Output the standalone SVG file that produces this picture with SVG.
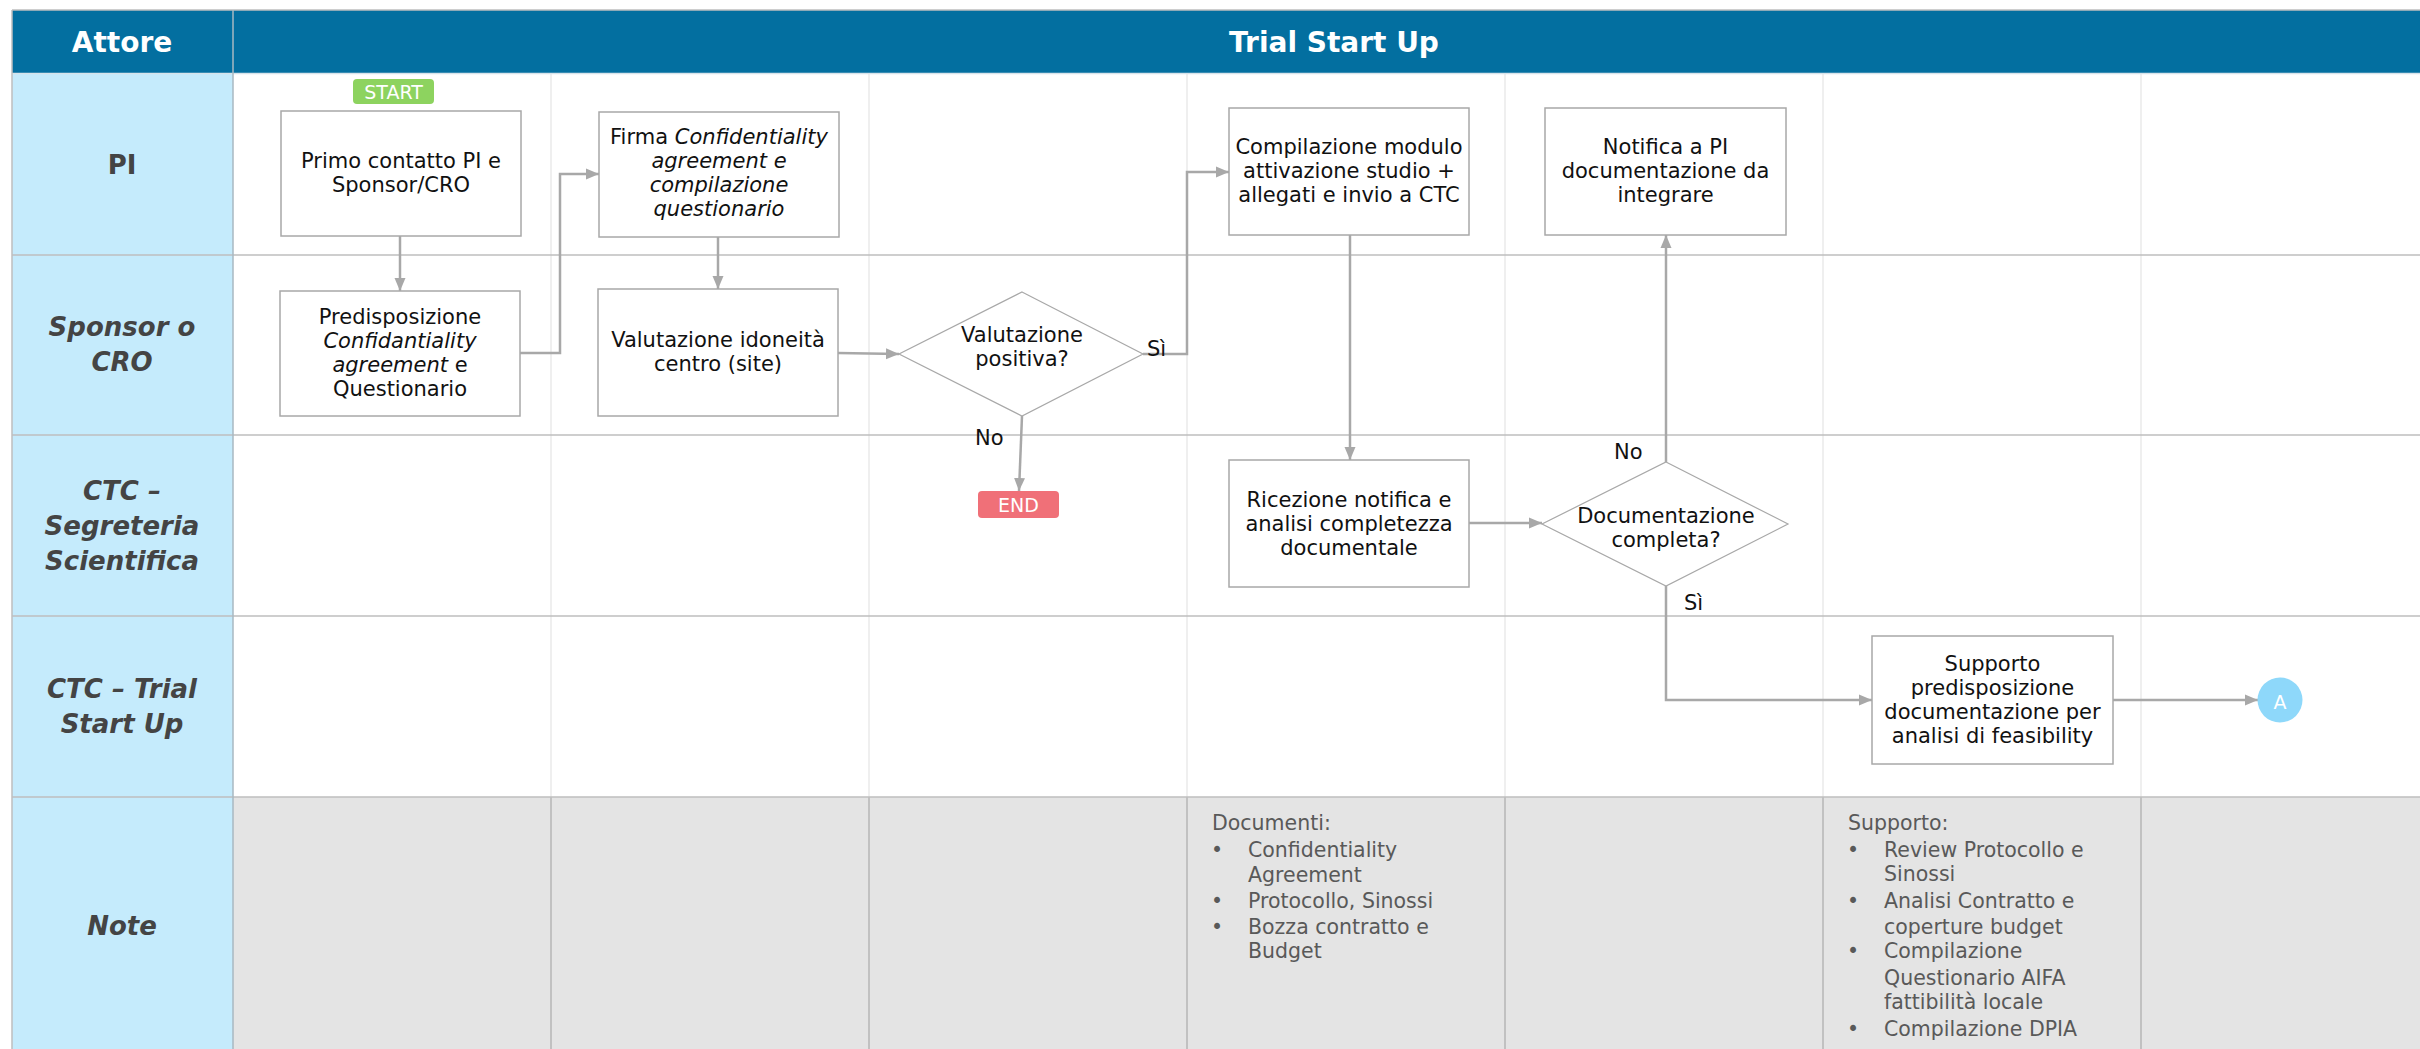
<svg xmlns="http://www.w3.org/2000/svg" width="2420" height="1049" viewBox="0 0 2420 1049">
  <style>
    .hdr { fill: #036FA0; }
    .lane-bg { fill: #C5EBFC; }
    .note-bg { fill: #E4E4E4; }
    .row-line { stroke: #BFBFBF; stroke-width: 1.5; fill: none; }
    .col-line { stroke: #E4E4E4; stroke-width: 1.2; fill: none; }
    .col-line-note { stroke: #B5B5B5; stroke-width: 1.5; fill: none; }
    .hdr-text { font-family: "DejaVu Sans", "Liberation Sans", sans-serif; font-weight: bold; font-size: 28px; fill: #FFFFFF; text-anchor: middle; }
    .lane-text { font-family: "DejaVu Sans", "Liberation Sans", sans-serif; font-weight: bold; font-style: italic; font-size: 26px; fill: #444444; text-anchor: middle; }
    .box { fill: #FFFFFF; stroke: #A8A8A8; stroke-width: 1.5; }
    .diamond { fill: #FFFFFF; stroke: #A8A8A8; stroke-width: 1.2; }
    .node-text { font-family: "DejaVu Sans", "Liberation Sans", sans-serif; font-size: 21px; fill: #111111; text-anchor: middle; }
    .lbl { font-family: "DejaVu Sans", "Liberation Sans", sans-serif; font-size: 21px; fill: #111111; }
    .term-text { font-family: "DejaVu Sans", "Liberation Sans", sans-serif; font-size: 19px; fill: #FFFFFF; text-anchor: middle; }
    .note-text { font-family: "DejaVu Sans", "Liberation Sans", sans-serif; font-size: 20.5px; fill: #595959; }
    .conn { fill: none; stroke: #A8A8A8; stroke-width: 2.5; marker-end: url(#arrow); }
  </style>
  <defs>
    <marker id="arrow" markerUnits="userSpaceOnUse" markerWidth="14" markerHeight="12" refX="13" refY="6" orient="auto">
      <path d="M0,0.5 L13,6 L0,11.5 Z" fill="#A8A8A8"/>
    </marker>
  </defs>

  <rect x="0" y="0" width="2420" height="1049" fill="#FFFFFF"/>

  <!-- swimlane grid -->
  <g id="grid">
    <rect class="hdr" x="12" y="10" width="2420" height="63"/>
    <rect class="lane-bg" x="12" y="73" width="221" height="990"/>
    <rect class="note-bg" x="233" y="797" width="2200" height="260"/>
    <!-- column separators in the lanes -->
    <path class="col-line" d="M551,74 V797 M869,74 V797 M1187,74 V797 M1505,74 V797 M1823,74 V797 M2141,74 V797"/>
    <!-- column separators in the notes row -->
    <path class="col-line-note" d="M551,797 V1049 M869,797 V1049 M1187,797 V1049 M1505,797 V1049 M1823,797 V1049 M2141,797 V1049"/>
    <!-- row separators -->
    <path class="row-line" d="M12,255 H2420 M12,435 H2420 M12,616 H2420 M12,797 H2420"/>
    <path stroke="#D8E3EA" stroke-width="1.5" fill="none" d="M12,73.5 H2420"/>
    <path class="row-line" d="M12,10 H2420 M12,10 V1049"/>
    <path stroke="#A9B8C2" stroke-width="1.5" fill="none" d="M233,10 V1049"/>
    <text class="hdr-text" x="122" y="52">Attore</text>
    <text class="hdr-text" x="1334" y="52">Trial Start Up</text>
  </g>

  <!-- lane titles -->
  <g id="lanes">
    <text class="lane-text" x="122" y="174" style="font-style:normal">PI</text>
    <text class="lane-text" x="122" y="336">Sponsor o</text>
    <text class="lane-text" x="122" y="371">CRO</text>
    <text class="lane-text" x="122" y="500">CTC –</text>
    <text class="lane-text" x="122" y="535">Segreteria</text>
    <text class="lane-text" x="122" y="570">Scientifica</text>
    <text class="lane-text" x="122" y="698">CTC – Trial</text>
    <text class="lane-text" x="122" y="733">Start Up</text>
    <text class="lane-text" x="122" y="935">Note</text>
  </g>

  <!-- connectors -->
  <g id="connectors">
    <path class="conn" d="M400,236 V291"/>
    <path class="conn" d="M520,353 H560 V174 H599"/>
    <path class="conn" d="M718,237 V289"/>
    <path class="conn" d="M838,353 L899,354"/>
    <path class="conn" d="M1143,354 H1187 V172 H1229"/>
    <path class="conn" d="M1022,416 L1019,491"/>
    <path class="conn" d="M1350,235 V460"/>
    <path class="conn" d="M1469,523 H1542"/>
    <path class="conn" d="M1666,462 V235"/>
    <path class="conn" d="M1666,586 V700 H1872"/>
    <path class="conn" d="M2113,700 H2258"/>
  </g>

  <g id="start">
    <rect x="353" y="79" width="81" height="25" rx="4" fill="#8DD35F"/>
    <text class="term-text" x="393.5" y="98.5">START</text>
  </g>

  <g id="primo-contatto">
    <rect class="box" x="281" y="111" width="240" height="125"/>
    <text class="node-text" x="401" y="168">Primo contatto PI e</text>
    <text class="node-text" x="401" y="192">Sponsor/CRO</text>
  </g>

  <g id="firma-cda">
    <rect class="box" x="599" y="112" width="240" height="125"/>
    <text class="node-text" x="719" y="144">Firma <tspan font-style="italic">Confidentiality</tspan></text>
    <text class="node-text" x="719" y="168" font-style="italic">agreement e</text>
    <text class="node-text" x="719" y="192" font-style="italic">compilazione</text>
    <text class="node-text" x="719" y="216" font-style="italic">questionario</text>
  </g>

  <g id="predisposizione">
    <rect class="box" x="280" y="291" width="240" height="125"/>
    <text class="node-text" x="400" y="324">Predisposizione</text>
    <text class="node-text" x="400" y="348" font-style="italic">Confidantiality</text>
    <text class="node-text" x="400" y="372"><tspan font-style="italic">agreement</tspan> e</text>
    <text class="node-text" x="400" y="396">Questionario</text>
  </g>

  <g id="valutazione-idoneita">
    <rect class="box" x="598" y="289" width="240" height="127"/>
    <text class="node-text" x="718" y="347">Valutazione idoneità</text>
    <text class="node-text" x="718" y="371">centro (site)</text>
  </g>

  <g id="valutazione-positiva">
    <polygon class="diamond" points="1022,292 1143,354 1022,416 899,354"/>
    <text class="node-text" x="1022" y="342">Valutazione</text>
    <text class="node-text" x="1022" y="366">positiva?</text>
    <text class="lbl" x="1147" y="356">Sì</text>
    <text class="lbl" x="975" y="445">No</text>
  </g>

  <g id="end">
    <rect x="978" y="491" width="81" height="27" rx="4" fill="#F07078"/>
    <text class="term-text" x="1018.5" y="511.5">END</text>
  </g>

  <g id="compilazione-modulo">
    <rect class="box" x="1229" y="108" width="240" height="127"/>
    <text class="node-text" x="1349" y="154">Compilazione modulo</text>
    <text class="node-text" x="1349" y="178">attivazione studio +</text>
    <text class="node-text" x="1349" y="202">allegati e invio a CTC</text>
  </g>

  <g id="notifica-pi">
    <rect class="box" x="1545" y="108" width="241" height="127"/>
    <text class="node-text" x="1665.5" y="154">Notifica a PI</text>
    <text class="node-text" x="1665.5" y="178">documentazione da</text>
    <text class="node-text" x="1665.5" y="202">integrare</text>
  </g>

  <g id="ricezione-notifica">
    <rect class="box" x="1229" y="460" width="240" height="127"/>
    <text class="node-text" x="1349" y="507">Ricezione notifica e</text>
    <text class="node-text" x="1349" y="531">analisi completezza</text>
    <text class="node-text" x="1349" y="555">documentale</text>
  </g>

  <g id="documentazione-completa">
    <polygon class="diamond" points="1666,462 1788,524 1666,586 1542,524"/>
    <text class="node-text" x="1666" y="523">Documentazione</text>
    <text class="node-text" x="1666" y="547">completa?</text>
    <text class="lbl" x="1614" y="459">No</text>
    <text class="lbl" x="1684" y="610">Sì</text>
  </g>

  <g id="supporto-feasibility">
    <rect class="box" x="1872" y="636" width="241" height="128"/>
    <text class="node-text" x="1992.5" y="671">Supporto</text>
    <text class="node-text" x="1992.5" y="695">predisposizione</text>
    <text class="node-text" x="1992.5" y="719">documentazione per</text>
    <text class="node-text" x="1992.5" y="743">analisi di feasibility</text>
  </g>

  <g id="connettore-a">
    <circle cx="2280" cy="700" r="22.5" fill="#8ED8FA"/>
    <text class="term-text" x="2280" y="709" font-size="25">A</text>
  </g>

  <g id="note-documenti">
    <text class="note-text" x="1212" y="830">Documenti:</text>
    <text class="note-text" x="1211" y="857">•</text>
    <text class="note-text" x="1248" y="857">Confidentiality</text>
    <text class="note-text" x="1248" y="882">Agreement</text>
    <text class="note-text" x="1211" y="908">•</text>
    <text class="note-text" x="1248" y="908">Protocollo, Sinossi</text>
    <text class="note-text" x="1211" y="934">•</text>
    <text class="note-text" x="1248" y="934">Bozza contratto e</text>
    <text class="note-text" x="1248" y="958">Budget</text>
  </g>

  <g id="note-supporto">
    <text class="note-text" x="1848" y="830">Supporto:</text>
    <text class="note-text" x="1847" y="857">•</text>
    <text class="note-text" x="1884" y="857">Review Protocollo e</text>
    <text class="note-text" x="1884" y="881">Sinossi</text>
    <text class="note-text" x="1847" y="908">•</text>
    <text class="note-text" x="1884" y="908">Analisi Contratto e</text>
    <text class="note-text" x="1884" y="934">coperture budget</text>
    <text class="note-text" x="1847" y="958">•</text>
    <text class="note-text" x="1884" y="958">Compilazione</text>
    <text class="note-text" x="1884" y="985">Questionario AIFA</text>
    <text class="note-text" x="1884" y="1009">fattibilità locale</text>
    <text class="note-text" x="1847" y="1036">•</text>
    <text class="note-text" x="1884" y="1036">Compilazione DPIA</text>
  </g>
</svg>
